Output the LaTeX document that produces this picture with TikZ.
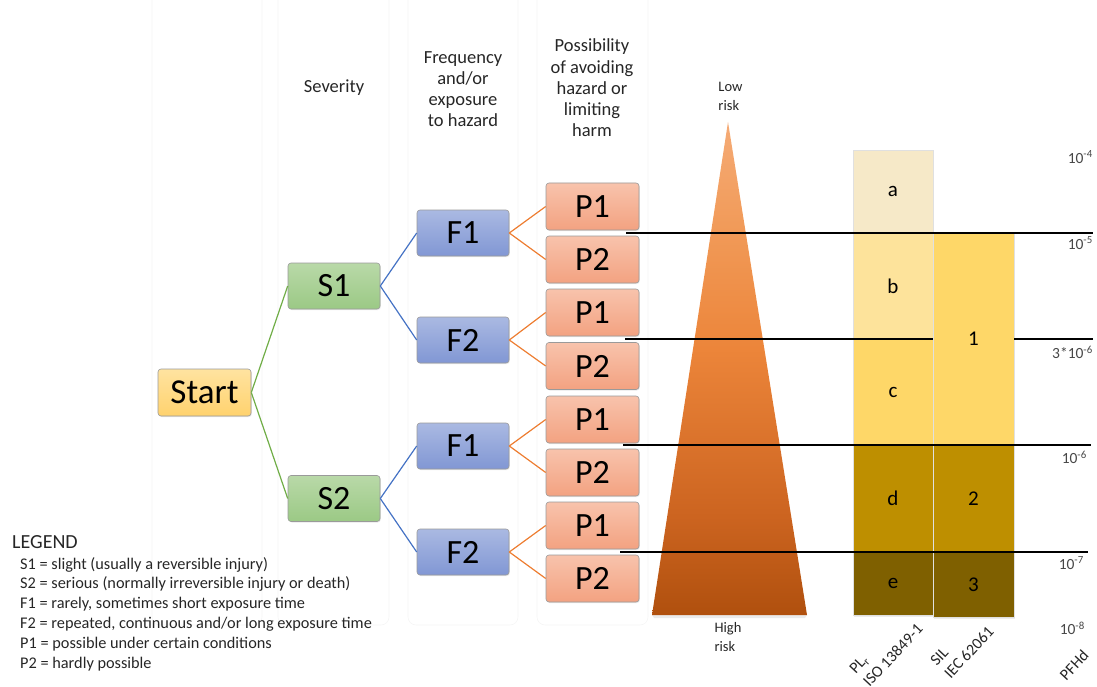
\documentclass[tikz,border=0pt]{standalone}
\usepackage{fontspec}
\setmainfont{Carlito}
\usetikzlibrary{shadows}

\definecolor{startTop}{HTML}{FFE3A0}
\definecolor{startBot}{HTML}{FFD26E}
\definecolor{sevTop}{HTML}{B9D9A8}
\definecolor{sevBot}{HTML}{9BC985}
\definecolor{freqTop}{HTML}{AAB9E2}
\definecolor{freqBot}{HTML}{8197D4}
\definecolor{possTop}{HTML}{F8C3AC}
\definecolor{possBot}{HTML}{F3A281}
\definecolor{edgeGreen}{HTML}{70AD47}
\definecolor{edgeBlue}{HTML}{4472C4}
\definecolor{edgeOrange}{HTML}{ED7D31}
\definecolor{boxLine}{HTML}{9A9A9A}
\definecolor{triTop}{HTML}{F5AB76}
\definecolor{triUpper}{HTML}{F19A58}
\definecolor{triMid}{HTML}{EC853A}
\definecolor{triLow}{HTML}{CC6420}
\definecolor{triBot}{HTML}{B0500E}
\definecolor{plA}{HTML}{F6E9C8}
\definecolor{plB}{HTML}{FDE39B}
\definecolor{plC}{HTML}{FED768}
\definecolor{plD}{HTML}{BE8F00}
\definecolor{plE}{HTML}{7F6000}
\definecolor{txt}{HTML}{262626}
\definecolor{panelLine}{HTML}{F5F5F5}

% orange ramp of the risk triangle (only 25bp..75bp is visible)
\pgfdeclareverticalshading{riskramp}{100bp}{
  color(0bp)=(triBot); color(25bp)=(triBot); color(35bp)=(triLow);
  color(52bp)=(triMid); color(64bp)=(triUpper); color(75bp)=(triTop);
  color(100bp)=(triTop)}

\begin{document}
\begin{tikzpicture}[x=1pt,y=-1pt,
  every node/.style={inner sep=0pt, text=txt},
  panel/.style={draw=panelLine, line width=0.6pt, rounded corners=8pt},
  treebox/.style={draw=boxLine, line width=0.6pt, rounded corners=3pt,
    minimum width=92pt, minimum height=46pt, text=black,
    font=\fontsize{34}{34}\selectfont,
    drop shadow={opacity=0.18, shadow xshift=0.8pt, shadow yshift=-1pt}},
  startbox/.style={treebox, top color=startTop, bottom color=startBot,
    minimum width=93pt, minimum height=47pt, font=\fontsize{35}{35}\selectfont},
  sevbox/.style={treebox, top color=sevTop, bottom color=sevBot},
  freqbox/.style={treebox, top color=freqTop, bottom color=freqBot},
  possbox/.style={treebox, top color=possTop, bottom color=possBot,
    minimum width=93pt, minimum height=47pt},
  edgeS/.style={draw=edgeGreen, line width=1.2pt},
  edgeF/.style={draw=edgeBlue, line width=1.2pt},
  edgeP/.style={draw=edgeOrange, line width=1.2pt},
  header/.style={align=center, text=txt, font=\fontsize{18.5}{21.2}\selectfont},
  risk/.style={align=left, font=\fontsize{14.5}{19}\selectfont},
  bar/.style={draw=black!12, line width=0.4pt, text=black,
    font=\fontsize{21}{21}\selectfont},
  plbar/.style={bar, minimum width=80pt},
  silbar/.style={bar, minimum width=81pt},
  scaleline/.style={draw=black, line width=1.6pt},
  pfh/.style={anchor=east, text=txt!85, font=\fontsize{15.5}{15.5}\selectfont},
  axislabel/.style={rotate=47, align=left, text=txt,
    font=\fontsize{16}{19}\selectfont},
  legendtext/.style={anchor=north west, align=left, text=txt,
    font=\fontsize{16.3}{19.8}\selectfont}
]
\useasboundingbox (0,0) rectangle (1097,687);

% faint column panels behind the tree
\foreach \xa/\xb in {152/262, 278/389, 408/518, 537/648}
  \draw[panel] (\xa,-12) rectangle (\xb,625);

% column headers
\node[header] (hsev)  at (334,88) {Severity};
\node[header] (hfreq) at (463,89) {Frequency\\and/or\\exposure\\to hazard};
\node[header] (hposs) at (592,88) {Possibility\\of avoiding\\hazard or\\limiting\\harm};

% decision tree
\node[startbox] (start) at (204.5,392.5) {Start};
\node[sevbox] (s1) at (334,286) {S1};
\node[sevbox] (s2) at (334,498.5) {S2};
\node[freqbox] (f1a) at (463,233) {F1};
\node[freqbox] (f2a) at (463,340) {F2};
\node[freqbox] (f1b) at (463,446) {F1};
\node[freqbox] (f2b) at (463,552) {F2};
\node[possbox] (p1a) at (592.5,206.5) {P1};
\node[possbox] (p2a) at (592.5,259.5) {P2};
\node[possbox] (p1b) at (592.5,312.5) {P1};
\node[possbox] (p2b) at (592.5,366) {P2};
\node[possbox] (p1c) at (592.5,419.5) {P1};
\node[possbox] (p2c) at (592.5,472.5) {P2};
\node[possbox] (p1d) at (592.5,525.5) {P1};
\node[possbox] (p2d) at (592.5,578.5) {P2};

\draw[edgeS] (start.east) -- (s1.west);
\draw[edgeS] (start.east) -- (s2.west);
\draw[edgeF] (s1.east) -- (f1a.west);
\draw[edgeF] (s1.east) -- (f2a.west);
\draw[edgeF] (s2.east) -- (f1b.west);
\draw[edgeF] (s2.east) -- (f2b.west);
\draw[edgeP] (f1a.east) -- (p1a.west);
\draw[edgeP] (f1a.east) -- (p2a.west);
\draw[edgeP] (f2a.east) -- (p1b.west);
\draw[edgeP] (f2a.east) -- (p2b.west);
\draw[edgeP] (f1b.east) -- (p1c.west);
\draw[edgeP] (f1b.east) -- (p2c.west);
\draw[edgeP] (f2b.east) -- (p1d.west);
\draw[edgeP] (f2b.east) -- (p2d.west);

% risk triangle
\fill[black, opacity=0.08] (652,615) -- (807,615) -- (805,618) -- (654,618) -- cycle;
\shade[shading=riskramp] (728,122) -- (807,615) -- (652,615) -- cycle;
\node[risk] (low)  at (730.5,96) {Low\\risk};
\node[risk] (high) at (728,637.5) {High\\risk};

% performance level column
\node[plbar, fill=plA, minimum height=83pt,  drop shadow={opacity=0.12, shadow xshift=1pt, shadow yshift=-1pt}] (pla) at (893,191.5) {a};
\node[plbar, fill=plB, minimum height=106pt] (plb) at (893,286) {b};
\node[plbar, fill=plC, minimum height=106pt] (plc) at (893,392) {c};
\node[plbar, fill=plD, minimum height=107pt] (pld) at (893,498.5) {d};
\node[plbar, fill=plE, minimum height=63pt, drop shadow={opacity=0.15, shadow xshift=1pt, shadow yshift=-1.5pt}] (ple) at (893,583.5) {e};

% safety integrity level column
\node[silbar, fill=plC, minimum height=212pt] (sil1) at (973.5,339) {1};
\node[silbar, fill=plD, minimum height=107pt] (sil2) at (973.5,498.5) {2};
\node[silbar, fill=plE, minimum height=65pt, drop shadow={opacity=0.15, shadow xshift=1pt, shadow yshift=-1.5pt}] (sil3) at (973.5,584.5) {3};

% PFHd boundaries
\draw[scaleline] (626,233) -- (1093,233);
\draw[scaleline] (625,339) -- (933,339);
\draw[scaleline] (1014,339) -- (1093,339);
\draw[scaleline] (623,445) -- (1091,445);
\draw[scaleline] (620,552) -- (1088,552);

\node[pfh] (e4) at (1093,157) {10\textsuperscript{-4}};
\node[pfh] (e5) at (1093,243) {10\textsuperscript{-5}};
\node[pfh] (e36) at (1093,352) {3*10\textsuperscript{-6}};
\node[pfh] (e6) at (1087,457) {10\textsuperscript{-6}};
\node[pfh] (e7) at (1084,563) {10\textsuperscript{-7}};
\node[pfh] (e8) at (1085,628) {10\textsuperscript{-8}};

% axis captions
\node[axislabel] (plcap)  at (886,649) {PL\textsubscript{r}\\ISO 13849-1};
\node[axislabel] (silcap) at (962,646) {SIL\\IEC 62061};
\node[axislabel] (pfhcap) at (1074,665) {PFHd};

% legend
\node[anchor=base west, text=txt, font=\fontsize{20}{20}\selectfont] (legtitle) at (12,548) {LEGEND};
\node[legendtext] (legbody) at (20,557) {S1 = slight (usually a reversible injury)\\
S2 = serious (normally irreversible injury or death)\\
F1 = rarely, sometimes short exposure time\\
F2 = repeated, continuous and/or long exposure time\\
P1 = possible under certain conditions\\
P2 = hardly possible};
\end{tikzpicture}
\end{document}
